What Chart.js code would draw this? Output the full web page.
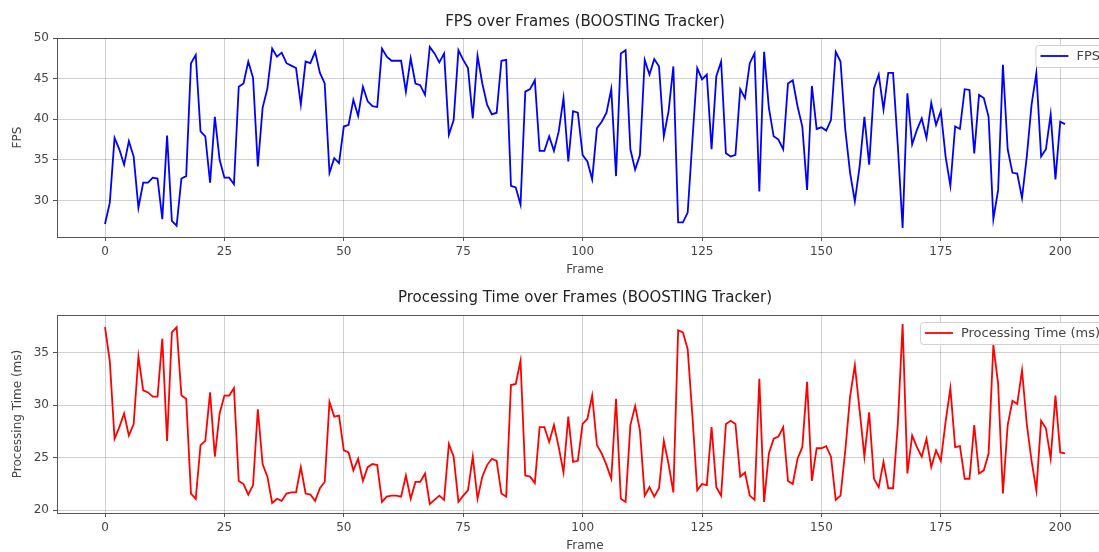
<!DOCTYPE html>
<html>
<head>
<meta charset="utf-8">
<script src="https://cdn.jsdelivr.net/npm/chart.js@4.4.1/dist/chart.umd.min.js"></script>
<style>
  html, body { margin: 0; padding: 0; background: #fff; overflow: hidden; width: 1099px; height: 552px; position: relative; }
  canvas { display: block; position: absolute; left: 0; }
  #fpsChart { top: 0; }
  #timeChart { top: 276px; }
</style>
</head>
<body>
<canvas id="fpsChart" width="1115" height="282"></canvas>
<canvas id="timeChart" width="1115" height="282"></canvas>
<script>
// frame index 0..201
var frames = [];
for (var i = 0; i <= 201; i++) frames.push(i);

var fps = [
  27.1, 29.7, 37.7, 36.3, 34.4, 37.3, 35.4, 29.1, 32.2, 32.2,
  32.8, 32.7, 27.7, 38.0, 27.5, 26.9, 32.7, 33.0, 46.9, 47.9,
  38.5, 37.9, 32.2, 40.3, 35.0, 32.8, 32.8, 32.0, 44.0, 44.4,
  47.1, 45.1, 34.2, 41.4, 43.8, 48.7, 47.7, 48.2, 46.9, 46.6,
  46.3, 41.8, 47.1, 46.9, 48.3, 45.7, 44.4, 33.4, 35.2, 34.6,
  39.1, 39.3, 42.4, 40.4, 44.0, 42.2, 41.6, 41.5, 48.7, 47.7,
  47.2, 47.2, 47.2, 43.4, 47.5, 44.4, 44.2, 43.0, 48.9, 48.1,
  47.0, 48.1, 38.1, 39.9, 48.5, 47.3, 46.3, 40.1, 47.8, 44.4,
  41.8, 40.6, 40.8, 47.2, 47.3, 31.8, 31.6, 29.5, 43.4, 43.7,
  44.8, 36.1, 36.1, 37.9, 36.1, 38.5, 42.6, 34.8, 41.0, 40.8,
  35.6, 34.8, 32.6, 38.9, 39.7, 40.8, 43.7, 33.0, 48.1, 48.5,
  36.3, 33.8, 35.6, 47.3, 45.5, 47.4, 46.5, 37.9, 41.0, 46.5,
  27.3, 27.3, 28.5, 37.5, 46.3, 44.9, 45.5, 36.3, 45.3, 47.1,
  35.8, 35.4, 35.6, 43.7, 42.6, 46.9, 48.1, 31.1, 48.3, 41.4,
  37.9, 37.5, 36.3, 44.4, 44.8, 41.6, 39.1, 31.3, 44.1, 38.8,
  39.0, 38.6, 39.9, 48.3, 47.1, 38.7, 33.4, 29.9, 34.2, 40.3,
  34.4, 43.8, 45.5, 41.2, 45.7, 45.7, 36.7, 26.6, 43.2, 36.9,
  38.7, 40.1, 37.7, 42.0, 39.3, 41.0, 35.4, 31.8, 39.1, 38.8,
  43.7, 43.6, 35.8, 43.0, 42.6, 40.3, 27.7, 31.3, 46.7, 36.3,
  33.4, 33.3, 30.3, 35.4, 41.8, 45.7, 35.4, 36.3, 40.6, 32.6,
  39.7, 39.4
];

var procTime = [
  37.4, 34.2, 26.8, 27.9, 29.2, 27.1, 28.2, 34.6, 31.4, 31.2,
  30.8, 30.8, 36.3, 26.6, 36.9, 37.4, 30.9, 30.6, 21.6, 21.1,
  26.2, 26.6, 31.2, 25.1, 29.2, 30.9, 30.9, 31.6, 22.8, 22.5,
  21.5, 22.4, 29.6, 24.4, 23.2, 20.7, 21.1, 20.9, 21.6, 21.7,
  21.7, 24.1, 21.6, 21.5, 20.9, 22.1, 22.7, 30.3, 28.9, 29.0,
  25.7, 25.5, 23.8, 24.9, 22.8, 24.1, 24.4, 24.3, 20.8, 21.3,
  21.4, 21.4, 21.3, 23.3, 21.1, 22.7, 22.7, 23.5, 20.6, 21.0,
  21.4, 21.0, 26.3, 25.1, 20.8, 21.4, 21.9, 25.1, 21.1, 23.2,
  24.3, 24.9, 24.7, 21.6, 21.3, 31.9, 32.0, 34.2, 23.3, 23.2,
  22.6, 27.9, 27.9, 26.5, 28.1, 26.0, 23.6, 28.9, 24.6, 24.7,
  28.2, 28.7, 30.9, 26.2, 25.4, 24.3, 23.0, 30.6, 21.1, 20.8,
  28.1, 29.9, 27.6, 21.4, 22.2, 21.3, 22.1, 26.6, 24.4, 21.7,
  37.1, 36.9, 35.3, 28.9, 21.9, 22.5, 22.4, 27.9, 22.2, 21.4,
  28.2, 28.5, 28.2, 23.2, 23.6, 21.4, 21.0, 32.5, 20.8, 25.4,
  26.8, 27.0, 27.9, 22.8, 22.5, 24.9, 26.0, 32.2, 22.8, 25.9,
  25.9, 26.1, 25.1, 21.0, 21.4, 25.7, 30.8, 33.8, 29.5, 25.1,
  29.3, 23.0, 22.2, 24.6, 22.1, 22.1, 28.2, 37.7, 23.5, 27.1,
  26.0, 25.1, 26.8, 24.1, 25.7, 24.7, 28.4, 31.6, 26.0, 26.1,
  23.0, 23.0, 28.1, 23.5, 23.8, 25.4, 35.7, 32.0, 21.6, 28.1,
  30.4, 30.1, 33.3, 28.2, 24.7, 21.9, 28.5, 27.8, 24.9, 30.9,
  25.5, 25.4
];

var xTicks = [0, 25, 50, 75, 100, 125, 150, 175, 200];
var fpsTicks = [30, 35, 40, 45, 50];
var timeTicks = [20, 25, 30, 35];

Chart.defaults.font.family = '"DejaVu Sans", sans-serif';
Chart.defaults.color = '#444';

// matplotlib style box round the plot, title centred over the axes
const axesFrame = {
  id: 'axesFrame',
  afterDraw(chart, args, opts) {
    const a = chart.chartArea;
    const ctx = chart.ctx;
    ctx.save();
    ctx.strokeStyle = '#555';
    ctx.lineWidth = 1;
    ctx.strokeRect(Math.round(a.left) + 0.5, Math.round(a.top) + 0.5,
      Math.round(a.right - a.left), Math.round(a.bottom - a.top));
    ctx.fillStyle = '#222';
    ctx.font = '15px "DejaVu Sans"';
    ctx.textAlign = 'center';
    ctx.textBaseline = 'middle';
    ctx.fillText(opts.title, (a.left + a.right) / 2, 22);
    ctx.restore();
  }
};

// legend box in the upper right corner
const boxLegend = {
  id: 'boxLegend',
  afterDatasetsDraw(chart) {
    const ds = chart.data.datasets[0];
    const a = chart.chartArea;
    const ctx = chart.ctx;
    ctx.save();
    ctx.font = '13px "DejaVu Sans"';
    const tw = ctx.measureText(ds.label).width;
    const w = 5 + 28 + 8 + tw + 6, h = 22;
    const x = a.right - 7 - w, y = a.top + 7;
    ctx.fillStyle = 'rgba(255,255,255,0.85)';
    ctx.strokeStyle = '#d0d0d0';
    ctx.lineWidth = 1;
    ctx.beginPath();
    ctx.roundRect(x + 0.5, y + 0.5, w, h, 3);
    ctx.fill();
    ctx.stroke();
    ctx.strokeStyle = ds.borderColor;
    ctx.lineWidth = 1.8;
    ctx.beginPath();
    ctx.moveTo(x + 5, y + h / 2);
    ctx.lineTo(x + 33, y + h / 2);
    ctx.stroke();
    ctx.fillStyle = '#444';
    ctx.textBaseline = 'middle';
    ctx.fillText(ds.label, x + 41, y + h / 2 + 1);
    ctx.restore();
  }
};

function makeChart(id, title, yTitle, label, values, color, yMin, yMax, yTicks, top) {
  var points = frames.map(function(f, i) { return {x: f, y: values[i]}; });
  return new Chart(document.getElementById(id), {
    type: 'line',
    data: {
      datasets: [{
        label: label,
        data: points,
        borderColor: color,
        borderWidth: 1.8,
        pointRadius: 0,
        tension: 0,
        fill: false
      }]
    },
    options: {
      responsive: false,
      animation: false,
      layout: { padding: { left: 0, right: 2, top: top, bottom: 0 } },
      plugins: {
        legend: { display: false },
        tooltip: { enabled: false },
        title: { display: false },
        axesFrame: { title: title }
      },
      scales: {
        x: {
          type: 'linear',
          min: -10.05,
          max: 211.05,
          afterBuildTicks: function(s) { s.ticks = xTicks.map(function(v) { return {value: v}; }); },
          afterFit: function(s) { s.height = 45; },
          border: { display: false },
          grid: { color: 'rgba(0,0,0,0.18)', tickLength: 4, tickColor: '#555' },
          ticks: { font: { size: 12 }, color: '#444', padding: 4, maxRotation: 0, autoSkip: false },
          title: { display: true, text: 'Frame', font: { size: 12 }, color: '#444', padding: { top: 0, bottom: 5 } }
        },
        y: {
          min: yMin,
          max: yMax,
          afterBuildTicks: function(s) { s.ticks = yTicks.map(function(v) { return {value: v}; }); },
          afterFit: function(s) { s.width = 57; },
          border: { display: false },
          grid: { color: 'rgba(0,0,0,0.18)', tickLength: 4, tickColor: '#555' },
          ticks: { font: { size: 12 }, color: '#444', padding: 4, autoSkip: false },
          title: { display: true, text: yTitle, font: { size: 12 }, color: '#444', padding: { top: 11, bottom: 0 } }
        }
      }
    },
    plugins: [axesFrame, boxLegend]
  });
}

makeChart('fpsChart', 'FPS over Frames (BOOSTING Tracker)', 'FPS', 'FPS',
  fps, '#0000ff', 25.5, 50.0, fpsTicks, 38);
makeChart('timeChart', 'Processing Time over Frames (BOOSTING Tracker)', 'Processing Time (ms)', 'Processing Time (ms)',
  procTime, '#ff0000', 19.75, 38.55, timeTicks, 39);
</script>
</body>
</html>
